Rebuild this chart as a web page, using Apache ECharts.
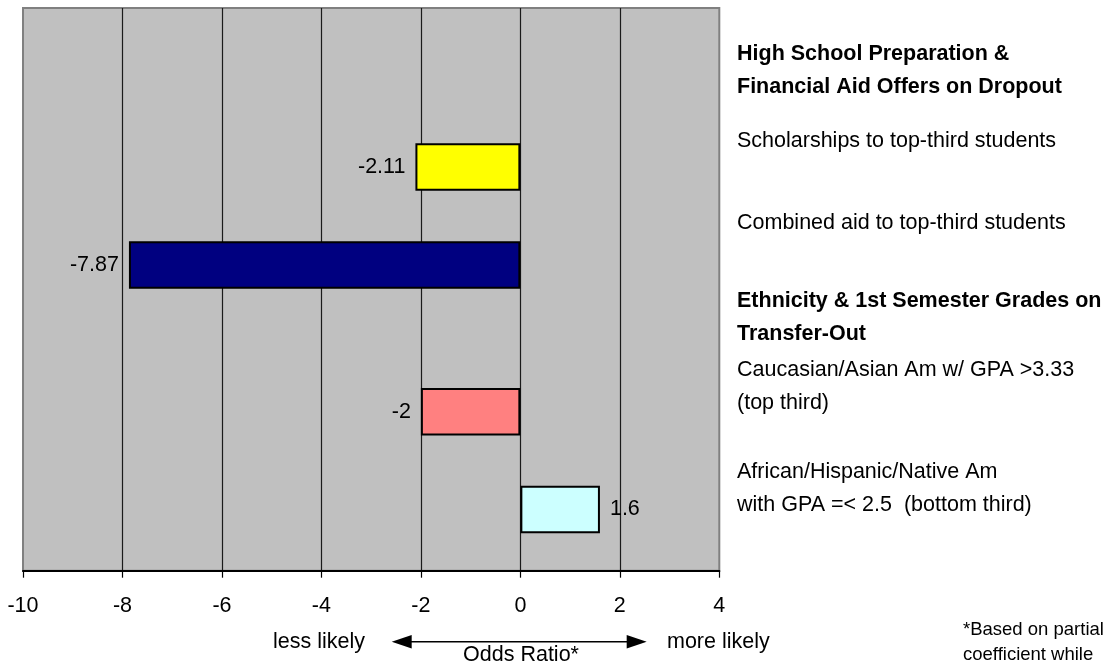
<!DOCTYPE html>
<html>
<head>
<meta charset="utf-8">
<title>Odds Ratio</title>
<script src="https://cdn.jsdelivr.net/npm/echarts@6/dist/echarts.min.js"></script>
<style>
  html, body { margin: 0; padding: 0; background: #ffffff; }
  #chart { width: 1108px; height: 666px; }
</style>
</head>
<body>
<div id="chart"></div>
<script>
// Effect rows (top to bottom) and their odds ratios
const categories = [
  'Scholarships to top-third students',
  'Combined aid to top-third students',
  'Caucasian/Asian Am w/ GPA >3.33 (top third)',
  'African/Hispanic/Native Am with GPA =< 2.5 (bottom third)'
];
const oddsRatios = [-2.11, -7.87, -2, 1.6];

// Odds-ratio axis
const axisMin = -10;
const axisMax = 4;
const axisStep = 2;

// Side notes
const groupHeadings = [
  ['High School Preparation &', 'Financial Aid Offers on Dropout'],
  ['Ethnicity & 1st Semester Grades on', 'Transfer-Out']
];
const rowNotes = [
  ['Scholarships to top-third students'],
  ['Combined aid to top-third students'],
  ['Caucasian/Asian Am w/ GPA >3.33', '(top third)'],
  ['African/Hispanic/Native Am', 'with GPA =< 2.5  (bottom third)']
];
const footnote = ['*Based on partial', 'coefficient while'];

// ---- layout & styling ----
const FONT = "'Liberation Sans', Arial, Helvetica, sans-serif";
const FS = 21.5;
const barColors = ['#ffff00', '#000080', '#ff8080', '#ccffff'];
const SLOT_COUNT = 23;              // fine vertical slots across the plot
const rowSlots = [6, 10, 16, 20];   // slot of each bar

const slotLabels = [];
const slotData = [];
for (let i = 0; i < SLOT_COUNT; i++) { slotLabels.push('slot' + i); slotData.push('-'); }
categories.forEach(function (name, k) {
  const v = oddsRatios[k];
  slotLabels[rowSlots[k]] = name;
  slotData[rowSlots[k]] = {
    value: v,
    itemStyle: { color: barColors[k] },
    label: { position: v < 0 ? 'left' : 'right' }
  };
});

const textEls = [];
function addText(str, x, y, opts) {
  opts = opts || {};
  textEls.push({
    type: 'text',
    x: x, y: y,
    z: 100,
    style: {
      text: str,
      font: (opts.bold ? 'bold ' : '') + (opts.size || FS) + 'px ' + FONT,
      fill: '#000',
      textAlign: opts.align || 'left',
      textVerticalAlign: 'middle'
    }
  });
}

const NOTE_X = 737;
addText(groupHeadings[0][0], NOTE_X, 54.5, { bold: true });
addText(groupHeadings[0][1], NOTE_X, 87, { bold: true });
addText(rowNotes[0][0], NOTE_X, 141);
addText(rowNotes[1][0], NOTE_X, 223);
addText(groupHeadings[1][0], NOTE_X, 301.5, { bold: true });
addText(groupHeadings[1][1], NOTE_X, 334.5, { bold: true });
addText(rowNotes[2][0], NOTE_X, 370.5);
addText(rowNotes[2][1], NOTE_X, 403);
addText(rowNotes[3][0], NOTE_X, 472.5);
addText(rowNotes[3][1], NOTE_X, 505);

addText('less likely', 365, 642, { align: 'right' });
addText('more likely', 667, 642);
addText('Odds Ratio*', 521, 655, { align: 'center' });
addText(footnote[0], 963, 629.5, { size: 18.5 });
addText(footnote[1], 963, 655, { size: 18.5 });

// double-headed arrow under the axis
const arrowEls = [
  { type: 'line', z: 100, shape: { x1: 405, y1: 641.7, x2: 634, y2: 641.7 }, style: { stroke: '#000', lineWidth: 1.5 } },
  { type: 'polygon', z: 100, shape: { points: [[391.7, 641.7], [411.7, 635], [411.7, 648.4]] }, style: { fill: '#000' } },
  { type: 'polygon', z: 100, shape: { points: [[646.7, 641.7], [626.7, 635], [626.7, 648.4]] }, style: { fill: '#000' } }
];

const chart = echarts.init(document.getElementById('chart'), null, { renderer: 'canvas' });
chart.setOption({
  animation: false,
  backgroundColor: '#ffffff',
  textStyle: { fontFamily: FONT },
  grid: {
    left: 23, top: 8, width: 696.3, height: 562.7,
    show: true,
    backgroundColor: '#c0c0c0',
    borderColor: '#808080',
    borderWidth: 2
  },
  xAxis: {
    type: 'value',
    min: axisMin, max: axisMax, interval: axisStep,
    position: 'bottom',
    axisLine: { show: true, onZero: false, lineStyle: { color: '#000', width: 2 } },
    axisTick: { show: true, inside: false, length: 7, lineStyle: { color: '#000', width: 1.2 } },
    axisLabel: { fontSize: FS, color: '#000', margin: 24, fontFamily: FONT },
    splitLine: {
      show: true,
      showMinLine: false,
      showMaxLine: false,
      lineStyle: { color: '#1a1a1a', width: 1.2 }
    }
  },
  yAxis: {
    type: 'category',
    inverse: true,
    data: slotLabels,
    axisLine: { show: false },
    axisTick: { show: false },
    axisLabel: { show: false },
    splitLine: { show: false }
  },
  series: [{
    type: 'bar',
    data: slotData,
    barWidth: 47.5,
    itemStyle: { borderColor: '#000', borderWidth: 2 },
    label: {
      show: true,
      distance: 10,
      fontSize: FS,
      color: '#000',
      fontFamily: FONT,
      formatter: function (p) { return String(p.value); }
    },
    z: 3
  }],
  graphic: { elements: textEls.concat(arrowEls) }
});
</script>
</body>
</html>
